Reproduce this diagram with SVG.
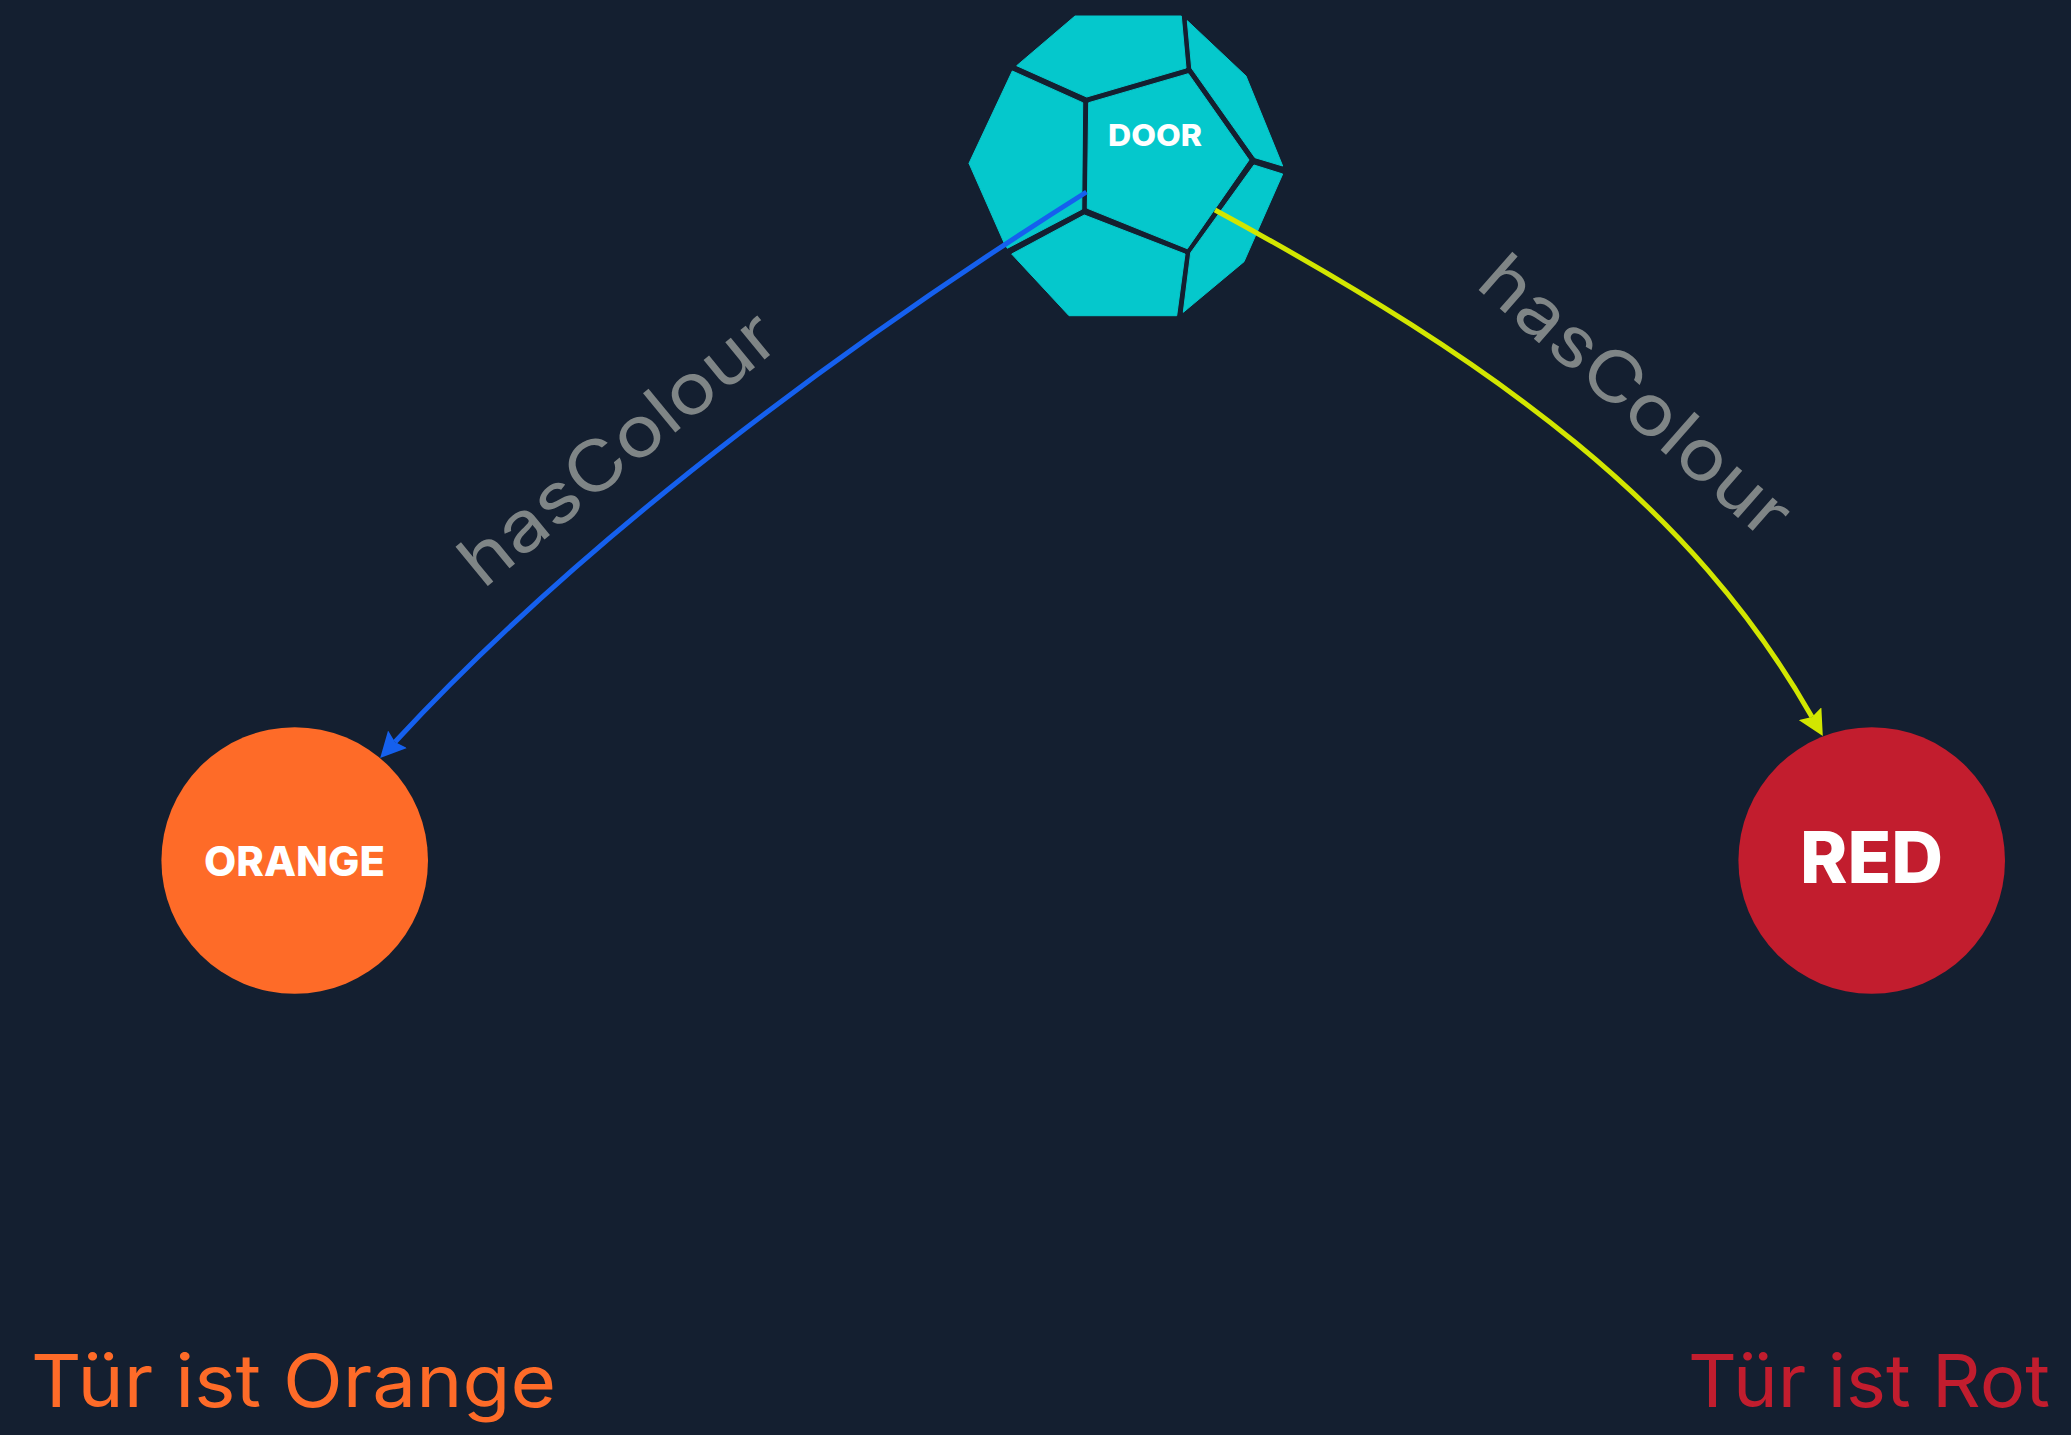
<svg xmlns="http://www.w3.org/2000/svg" width="2071" height="1435" viewBox="0 0 2071 1435">
<style>
.bg{fill:#141F30}
.face{fill:#05C8CC;stroke:#05C8CC;stroke-width:1;stroke-linejoin:round}
.lbl{font-family:Inter,"Liberation Sans",sans-serif;font-weight:800;fill:#FFFFFF}
.edge{fill:none;stroke-width:5}
.elbl{font-family:Inter,"Liberation Sans",sans-serif;font-weight:400;font-size:70px;fill:#7F8586}
.cap{font-family:Inter,"Liberation Sans",sans-serif;font-weight:400;font-size:73px}
</style>
<defs>
<marker id="ahBlue" markerUnits="userSpaceOnUse" markerWidth="26" markerHeight="26" viewBox="0 0 25 25" refX="3.6" refY="12.4" orient="auto"><path d="M0 0L24.6 12.4L0 24.8L3.6 12.4Z" fill="#1560EE"/></marker>
<marker id="ahYellow" markerUnits="userSpaceOnUse" markerWidth="26" markerHeight="26" viewBox="0 0 25 25" refX="3.6" refY="12.4" orient="auto"><path d="M0 0L24.6 12.4L0 24.8L3.6 12.4Z" fill="#D2E600"/></marker>
</defs>
<rect class="bg" width="2071" height="1435"/>
<g id="door">
<polygon class="face" points="1075,16 1181.3,16 1186,68 1086.7,97 1016.7,65.7"/>
<polygon class="face" points="1012.3,71 1082.7,102.7 1081.7,209.3 1007.3,248.3 1004.3,243.3 969,163.3"/>
<polygon class="face" points="1187.3,20.7 1246,76 1282.7,166 1255,157.7 1191.7,68.3"/>
<polygon class="face" points="1088.7,102.7 1188.3,73.7 1249,160 1187.3,248.7 1087.3,208.3"/>
<polygon class="face" points="1011.7,254 1084.3,215 1185,254 1176.7,315.7 1069,315.7"/>
<polygon class="face" points="1254,165 1282.7,174 1244,261.7 1183.3,312.3 1190.7,252.7"/>
<text class="lbl" x="1108" y="145.7" font-size="30" textLength="94" lengthAdjust="spacingAndGlyphs">DOOR</text>
</g>
<g id="orange">
<circle cx="294.7" cy="860.5" r="133.3" fill="#FE6B28"/>
<text class="lbl" x="204" y="875.7" font-size="41" textLength="181" lengthAdjust="spacingAndGlyphs">ORANGE</text>
</g>
<g id="red">
<circle cx="1871.7" cy="860.5" r="133.3" fill="#C21D2E"/>
<text class="lbl" x="1800" y="882.7" font-size="71" textLength="143" lengthAdjust="spacingAndGlyphs">RED</text>
</g>
<g id="connectors">
<path class="edge" stroke="#1560EE" marker-end="url(#ahBlue)" d="M1086.5 192C880 322 600 520 395 742"/>
<path class="edge" stroke="#D2E600" marker-end="url(#ahYellow)" d="M1215 210C1500 365 1692 506 1812 717"/>
<text class="elbl" transform="translate(483,590) rotate(-39.3)" textLength="388" lengthAdjust="spacingAndGlyphs">hasColour</text>
<text class="elbl" transform="translate(1474,286) rotate(41.3)" textLength="388" lengthAdjust="spacingAndGlyphs">hasColour</text>
</g>
<text class="cap" x="31" y="1406.7" fill="#FE6B28" textLength="525" lengthAdjust="spacingAndGlyphs">Tür ist Orange</text>
<text class="cap" x="1688" y="1406.7" fill="#C21D2E" textLength="362" lengthAdjust="spacingAndGlyphs">Tür ist Rot</text>
</svg>
